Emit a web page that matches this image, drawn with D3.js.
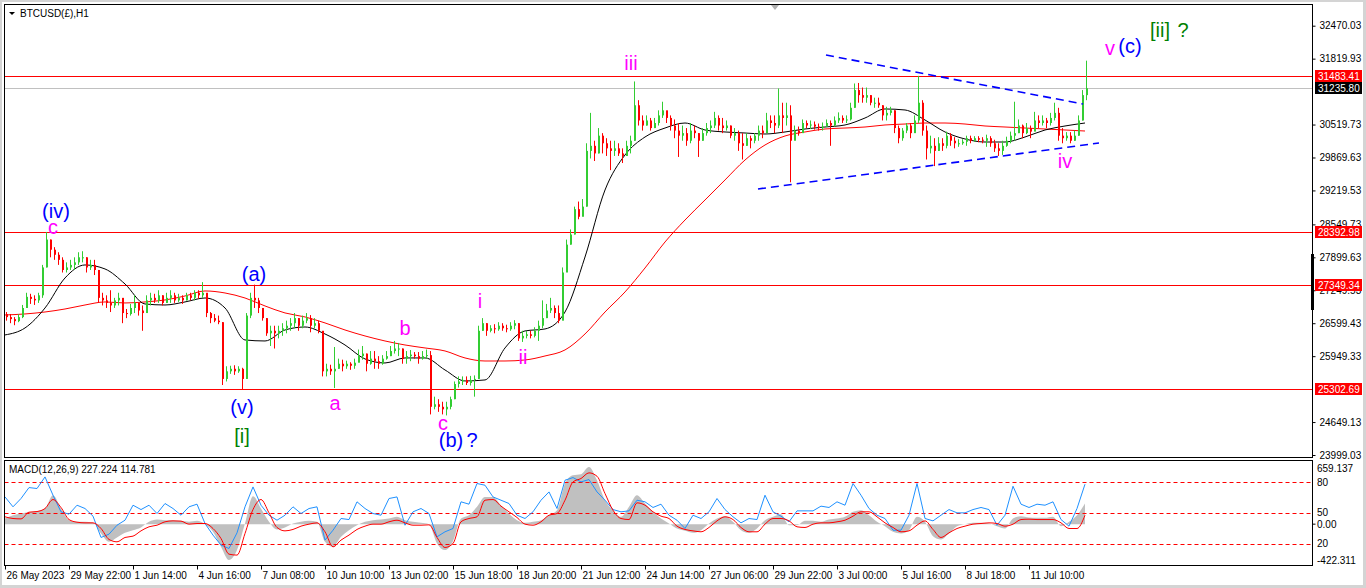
<!DOCTYPE html>
<html><head><meta charset="utf-8">
<script src="https://cdn.jsdelivr.net/npm/d3@7"></script>
<style>html,body{margin:0;padding:0;background:#fff;overflow:hidden}svg{display:block}text{font-family:"Liberation Sans",Arial,sans-serif}</style>
</head><body>
<script>
// ---------- DATA (4-hour OHLC bars) ----------
const firstOpen = 26780;
const closes = [26720,26680,26640,26720,26900,27120,27080,27050,27150,27700,28250,28050,27950,27850,27650,27700,27750,27800,27900,27900,27700,27750,27650,27100,27050,27000,26950,27050,27100,26800,26780,26900,27000,26850,26800,27050,27100,27050,27150,27000,27100,27150,27050,27100,27050,27150,27100,27200,27150,27200,26800,26700,26650,26620,25500,25650,25700,25650,25700,25500,26750,27100,27050,26900,26700,26400,26450,26400,26450,26500,26550,26600,26700,26550,26650,26700,26550,26600,26450,25650,25700,25650,25700,25800,25750,25800,25760,25820,25950,26000,25800,25900,25850,25800,25900,25950,26050,26100,26100,25900,25950,25980,25950,25900,25950,25970,24950,25000,24950,24900,24950,25100,25400,25450,25480,25420,25480,25500,26450,26600,26450,26500,26480,26550,26500,26480,26550,26600,26300,26350,26380,26350,26450,26550,26700,26850,26900,26800,26650,27600,28150,28350,28850,28700,28900,30000,30100,29950,30300,30150,30050,30000,30050,29950,29900,30100,30200,30900,30600,30500,30600,30450,30550,30700,30800,30650,30500,30400,30300,30350,30200,30400,30350,30200,30350,30450,30500,30650,30500,30450,30500,30300,30350,30150,30100,30250,30200,30300,30400,30350,30600,30550,30500,30700,30650,30700,30200,30400,30350,30550,30500,30520,30480,30450,30480,30550,30500,30600,30650,30600,30620,30850,31200,31100,31050,31100,30950,30950,30900,30700,30750,30800,30450,30250,30400,30500,30350,30600,30950,30400,30050,30100,30000,30150,30100,30300,30200,30150,30150,30180,30250,30200,30250,30220,30200,30250,30150,30050,30000,30100,30200,30300,30350,30500,30350,30450,30380,30600,30550,30600,30550,30650,30750,30300,30250,30300,30200,30300,30600,31100,31236];
const highs = [26820,26780,26720,26780,26960,27200,27180,27150,27200,27750,28400,28250,28100,28000,27900,27800,27850,27900,28000,28020,27900,27850,27850,27650,27200,27150,27250,27100,27200,27000,26880,26980,27150,27000,26950,27150,27200,27180,27250,27150,27200,27250,27200,27180,27150,27200,27200,27250,27250,27410,27150,26820,26780,26750,26620,25750,25760,25770,25750,25720,26800,27200,27360,27100,26900,26700,26550,26550,26550,26600,26650,26700,26800,26700,26750,26800,26760,26700,26650,26400,25800,25780,26130,25900,25880,25860,25830,25900,26080,26150,26000,26050,26050,25950,25970,26050,26150,26250,26210,26100,26050,26070,26030,26030,26050,26080,26050,25150,25100,25050,25050,25150,25450,25550,25550,25550,25560,25570,26550,26700,26600,26560,26580,26620,26600,26570,26620,26660,26600,26450,26450,26450,26520,26650,27050,26980,27100,26950,26950,27700,28250,28450,28900,29000,29050,30150,30750,30200,30450,30350,30250,30200,30200,30150,30050,30200,30300,31370,31000,30700,30700,30650,30650,30800,30970,30750,30700,30620,30550,30500,30450,30550,30500,30350,30450,30550,30600,30770,30700,30650,30600,30500,30450,30400,30350,30350,30300,30350,30500,30500,30750,30700,30700,31230,30950,30950,30900,30500,30480,30620,30600,30600,30580,30540,30560,30620,30600,30680,30760,30700,30700,30950,31330,31340,31250,31250,31100,31050,31050,30900,30870,30870,30800,30500,30450,30550,30550,30700,31480,31000,30500,30300,30250,30270,30250,30380,30350,30270,30230,30230,30300,30300,30290,30290,30270,30320,30290,30220,30150,30200,30280,30380,30970,30620,30520,30550,30500,30770,30700,30700,30650,30750,30950,30850,30450,30370,30370,30400,30700,31200,31780];
const lows = [26650,26600,26560,26620,26700,26900,26980,26960,27000,27100,27700,27900,27850,27750,27600,27600,27650,27650,27750,27800,27600,27650,27550,27000,26950,26900,26820,26900,26950,26600,26700,26750,26800,26750,26450,26850,26950,27000,27000,26950,27000,27000,27000,27020,26980,27050,27050,27050,27080,27100,26720,26600,26620,26580,25380,25450,25600,25580,25620,25300,25500,26700,26900,26800,26650,26350,26150,26100,26300,26350,26400,26450,26500,26450,26500,26600,26420,26500,26400,25550,25550,25580,25320,25700,25650,25700,25680,25700,25850,25880,25650,25780,25700,25700,25780,25880,25950,26000,25950,25800,25800,25850,25900,25800,25880,25900,24800,24900,24850,24800,24780,24900,25100,25330,25380,25380,25370,25150,25500,26450,26350,26420,26400,26450,26450,26420,26450,26480,26250,26230,26300,26300,26320,26250,26500,26700,26800,26700,26600,26700,27650,28150,28350,28650,28750,28900,29850,29800,29950,29950,29900,29620,29900,29900,29760,29900,29950,30200,30500,30400,30500,30400,30450,30500,30650,30550,30400,30250,29880,30200,30100,30150,30250,29880,30200,30300,30350,30450,30400,30350,30400,30250,30200,30000,29830,30100,30050,30150,30200,30250,30400,30450,30350,30450,30350,30500,29380,30250,30300,30400,30450,30430,30420,30400,30400,30480,30100,30480,30550,30550,30550,30600,30850,30950,30950,30950,30900,30850,30850,30600,30600,30700,30350,30150,30200,30350,30250,30400,30550,30300,29830,29950,29700,30000,30000,30050,30100,30050,30080,30120,30100,30150,30180,30170,30150,30080,30080,29980,29900,29920,30080,30150,30200,30350,30250,30330,30250,30450,30450,30500,30450,30500,30600,30200,30150,30200,30150,30200,30300,30600,31000];
// moving averages, one value every 20 hourly bars
const maFast = [26368,26506,26900,27492,27749,27670,27374,26979,26959,27019,27097,26900,26269,26249,26466,26525,26387,26170,25894,25815,25914,25914,25677,25460,25480,26111,26447,26486,26821,27906,29228,29919,30274,30451,30550,30412,30373,30353,30333,30373,30432,30471,30511,30649,30827,30807,30609,30373,30235,30175,30175,30274,30412,30491,30550];
const maSlow = [26762,26782,26821,26880,26959,27019,26999,27019,27058,27137,27236,27196,27097,26940,26802,26723,26605,26466,26348,26249,26170,26111,26052,25914,25854,25854,25874,25953,26072,26387,26821,27216,27689,28202,28636,29031,29426,29820,30116,30294,30373,30432,30451,30471,30511,30530,30550,30550,30530,30491,30471,30451,30432,30412,30392];
// MACD sub-window, one value every 8 hourly bars
const macdHist = [60,95,113,130,138,166,307,166,42,25,25,14,-99,-187,-141,-92,-64,-35,25,49,42,42,35,25,35,0,-81,-240,-381,-275,7,297,166,25,-56,-35,7,25,35,25,-187,-240,-134,-64,-11,25,42,49,60,78,42,25,14,0,-205,-275,-180,60,95,184,289,289,201,113,42,14,25,42,95,148,431,519,530,607,466,254,148,78,184,307,219,131,60,7,-46,-71,-92,-64,7,60,85,25,-64,-92,-46,42,78,106,-11,-11,35,35,25,49,60,78,131,148,95,25,-21,-81,-99,-64,78,25,-127,-162,-99,-21,0,14,14,7,-21,-46,60,85,71,67,67,78,-21,25,95,219];
const macdSignal = [78,60,56,127,134,166,261,177,49,21,14,14,-46,-162,-187,-141,-127,-71,-28,-11,25,35,32,0,7,7,-46,-152,-318,-328,-99,155,261,120,-35,-71,-56,-21,0,14,-81,-240,-169,-116,-56,-21,0,0,25,42,14,-11,-11,-7,-141,-247,-205,25,60,78,254,261,191,131,71,0,-11,25,95,113,254,448,484,544,508,325,148,60,49,226,201,131,85,60,-21,-56,-71,-81,-35,35,78,49,-35,-81,-81,0,60,60,35,-28,-35,0,14,14,25,42,85,131,131,78,14,-35,-81,-71,-11,35,-56,-141,-92,-46,-21,0,7,14,7,-21,0,49,53,49,49,49,14,-46,-46,95];
const macdBlue = [289,184,272,388,378,501,307,131,106,201,166,85,-141,-106,-11,42,201,155,201,113,219,166,95,184,212,7,-116,-222,-258,-92,184,395,201,95,42,95,184,113,166,184,-169,-64,60,49,237,166,113,95,272,289,-11,131,166,113,-134,-81,-46,237,212,431,413,289,254,219,95,60,131,254,342,166,466,494,448,473,342,254,155,131,141,254,237,177,212,95,42,-46,95,60,131,272,155,78,14,60,49,307,131,85,25,141,141,141,191,177,237,201,431,307,166,95,60,-64,-64,95,431,60,35,95,155,120,120,155,177,155,-11,95,402,212,177,212,201,237,49,-21,166,424];
const macdLevels = [447, 119, -210];
const macdLevelLabels = ["80", "50", "20"];
const macdMax = 659.137, macdMin = -422.311;
const macdTitle = "MACD(12,26,9) 227.224 114.781";
// axes
const priceTicks = [32470.03,31819.93,30519.73,29869.63,29219.53,28549.73,27899.63,27249.53,26599.43,25949.33,24649.13,23999.03];
const priceMin = 23999.03, priceMax = 32470.03;
const timeLabels = ["26 May 2023","29 May 22:00","1 Jun 14:00","4 Jun 16:00","7 Jun 08:00","10 Jun 10:00","13 Jun 02:00","15 Jun 18:00","18 Jun 20:00","21 Jun 12:00","24 Jun 14:00","27 Jun 06:00","29 Jun 22:00","3 Jul 00:00","5 Jul 16:00","8 Jul 18:00","11 Jul 10:00"];
const hoursPerLabel = 64, totalHours = 1083;
const hLevels = [31483.41, 28392.98, 27349.34, 25302.69];
const bidPrice = 31235.80;
const trendUpper = [[821, 31892], [1078, 30925]];
const trendLower = [[753, 29248], [1094, 30156]];
const waveLabels = [
  {t:"(iv)", h:51, p:28680, c:"blue"}, {t:"c", h:48, p:28360, c:"mag"},
  {t:"(a)", h:249, p:27433, c:"blue"}, {t:"(v)", h:237, p:24809, c:"blue"},
  {t:"[i]", h:237, p:24237, c:"green"}, {t:"a", h:330, p:24888, c:"mag"},
  {t:"b", h:400, p:26367, c:"mag"}, {t:"c", h:438, p:24500, c:"mag"},
  {t:"(b)", h:446, p:24160, c:"blue"}, {t:"?", h:467, p:24160, c:"blue"},
  {t:"i", h:475, p:26900, c:"mag"}, {t:"ii", h:518, p:25795, c:"mag"},
  {t:"iii", h:626, p:31596, c:"mag"}, {t:"iv", h:1060, p:29662, c:"mag"},
  {t:"v", h:1105, p:31892, c:"mag"}, {t:"(c)", h:1125, p:31931, c:"blue"},
  {t:"[ii]", h:1155, p:32247, c:"green"}, {t:"?", h:1178, p:32247, c:"green"}
];

// ---------- DRAW ----------
const W = 1366, H = 588;
const colors = {blue:"#0000ff", mag:"#ff00ff", green:"#008000", up:"#32cd32", down:"#ff0000"};
const svg = d3.select("body").append("svg").attr("width", W).attr("height", H);
svg.append("rect").attr("width", W).attr("height", H).attr("fill", "#d4d4d4");
svg.append("rect").attr("x", 2).attr("y", 2).attr("width", W - 5).attr("height", H - 5).attr("fill", "#fff");

const L = 4.5, R = 1312.5, mainTop = 4.5, mainBot = 457.5, subTop = 460.5, subBot = 565.5;
const x = d3.scaleLinear().domain([0, totalHours]).range([5, 1088]);
const y = d3.scaleLinear().domain([priceMin, priceMax]).range([455, 25.7]);
const ym = d3.scaleLinear().domain([macdMin, macdMax]).range([564, 462]);

svg.append("clipPath").attr("id", "cm").append("rect").attr("x", L).attr("y", mainTop).attr("width", R - L).attr("height", mainBot - mainTop);
svg.append("clipPath").attr("id", "cs").append("rect").attr("x", L).attr("y", subTop).attr("width", R - L).attr("height", subBot - subTop);
const gm = svg.append("g").attr("clip-path", "url(#cm)");

// horizontal levels
gm.selectAll("line.lvl").data(hLevels).join("line").attr("class", "lvl")
  .attr("x1", L).attr("x2", R).attr("y1", d => Math.round(y(d)) + 0.5).attr("y2", d => Math.round(y(d)) + 0.5)
  .attr("stroke", "#ff0000").attr("stroke-width", 1);
gm.append("line").attr("x1", L).attr("x2", R).attr("y1", Math.round(y(bidPrice)) + 0.5).attr("y2", Math.round(y(bidPrice)) + 0.5)
  .attr("stroke", "#c0c0c0").attr("stroke-width", 1);

// moving averages
const maLine = d3.line().x((d, i) => x(i * 20)).y(d => y(d)).curve(d3.curveMonotoneX);
gm.append("path").attr("d", maLine(maSlow)).attr("fill", "none").attr("stroke", "#ff0000").attr("stroke-width", 1);
gm.append("path").attr("d", maLine(maFast)).attr("fill", "none").attr("stroke", "#000").attr("stroke-width", 1);

// candles
const bars = closes.map((c, i) => ({o: i === 0 ? firstOpen : closes[i - 1], h: highs[i], l: lows[i], c, i}));
gm.selectAll("line.wick").data(bars).join("line").attr("class", "wick")
  .attr("x1", d => Math.round(x(d.i * 4)) + 1.5).attr("x2", d => Math.round(x(d.i * 4)) + 1.5)
  .attr("y1", d => y(d.h)).attr("y2", d => y(d.l))
  .attr("stroke", d => d.c >= d.o ? colors.up : colors.down).attr("stroke-width", 1);
gm.selectAll("rect.body").data(bars).join("rect").attr("class", "body")
  .attr("x", d => Math.round(x(d.i * 4)) + 1).attr("width", 2)
  .attr("y", d => y(Math.max(d.o, d.c))).attr("height", d => Math.max(1, Math.abs(y(d.o) - y(d.c))))
  .attr("fill", d => d.c >= d.o ? colors.up : colors.down);

// trendlines
[trendUpper, trendLower].forEach(t => {
  gm.append("line").attr("x1", x(t[0][0])).attr("y1", y(t[0][1])).attr("x2", x(t[1][0])).attr("y2", y(t[1][1]))
    .attr("stroke", "#0000ff").attr("stroke-width", 1.6).attr("stroke-dasharray", "8,5");
});

// wave labels
svg.append("g").selectAll("text").data(waveLabels).join("text")
  .attr("x", d => x(d.h)).attr("y", d => y(d.p)).attr("text-anchor", "middle")
  .attr("font-size", 20).attr("fill", d => colors[d.c]).text(d => d.t);

// title
svg.append("path").attr("d", "M9,12 L15,12 L12,15 Z").attr("fill", "#000");
svg.append("text").attr("x", 20).attr("y", 16.5).attr("font-size", 10).attr("fill", "#000").text("BTCUSD(£),H1");
svg.append("path").attr("d", "M771,5 L779,5 L775,10 Z").attr("fill", "#b0b0b0");

// MACD sub-window
const gs = svg.append("g").attr("clip-path", "url(#cs)");
const mx = (d, i) => x(i * 8);
gs.append("path").attr("d", d3.area().x(mx).y0(ym(0)).y1(d => ym(d)).curve(d3.curveMonotoneX)(macdHist))
  .attr("fill", "#c0c0c0");
gs.selectAll("line.ml").data(macdLevels).join("line").attr("class", "ml")
  .attr("x1", L).attr("x2", R).attr("y1", d => Math.round(ym(d)) + 0.5).attr("y2", d => Math.round(ym(d)) + 0.5)
  .attr("stroke", "#ff0000").attr("stroke-dasharray", "4,3");
gs.append("path").attr("d", d3.line().x(mx).y(d => ym(d))(macdBlue)).attr("fill", "none").attr("stroke", "#1e90ff").attr("stroke-width", 1);
gs.append("path").attr("d", d3.line().x(mx).y(d => ym(d)).curve(d3.curveMonotoneX)(macdSignal)).attr("fill", "none").attr("stroke", "#ff0000").attr("stroke-width", 1);
svg.append("text").attr("x", 9).attr("y", 473).attr("font-size", 10).attr("fill", "#000").text(macdTitle);

// frames
svg.append("rect").attr("x", L).attr("y", mainTop).attr("width", R - L).attr("height", mainBot - mainTop).attr("fill", "none").attr("stroke", "#000");
svg.append("rect").attr("x", L).attr("y", subTop).attr("width", R - L).attr("height", subBot - subTop).attr("fill", "none").attr("stroke", "#000");
svg.append("rect").attr("x", 1311).attr("y", 254).attr("width", 3).attr("height", 56).attr("fill", "#000");

// price axis
const pa = svg.append("g").attr("transform", `translate(${R},0)`)
  .call(d3.axisRight(y).tickValues(priceTicks).tickSize(3).tickPadding(4).tickFormat(d3.format(".2f")));
pa.select(".domain").remove();
pa.selectAll("text").attr("font-size", 10).attr("font-family", "Liberation Sans").attr("fill", "#000");
pa.selectAll("line").attr("stroke", "#000");

// price boxes
const boxes = hLevels.map(v => ({v, fill: "#ff0000"})).concat([{v: bidPrice, fill: "#000"}]);
const bg = svg.append("g").selectAll("g").data(boxes).join("g").attr("transform", d => `translate(1315,${Math.round(y(d.v))})`);
bg.append("rect").attr("x", 0).attr("y", -6).attr("width", 47).attr("height", 12).attr("fill", d => d.fill);
bg.append("text").attr("x", 3).attr("y", 4).attr("font-size", 10).attr("fill", "#fff").text(d => d3.format(".2f")(d.v));

// MACD scale labels
const ml = [{v: macdMax, t: "659.137"}, {v: 0, t: "0.00"}, {v: macdMin, t: "-422.311"}]
  .concat(macdLevels.map((v, i) => ({v, t: macdLevelLabels[i]})));
svg.append("g").selectAll("text").data(ml).join("text")
  .attr("x", 1317).attr("y", d => Math.min(Math.max(ym(d.v), 468), 560) + 3.5).attr("font-size", 10).attr("fill", "#000").text(d => d.t);
svg.append("line").attr("x1", R).attr("x2", R + 3).attr("y1", ym(0)).attr("y2", ym(0)).attr("stroke", "#000");

// time axis
const tg = svg.append("g").selectAll("g").data(timeLabels).join("g").attr("transform", (d, i) => `translate(${Math.round(x(i * hoursPerLabel)) + 0.5},${subBot})`);
tg.append("line").attr("y1", 0).attr("y2", 4).attr("stroke", "#000");
tg.append("text").attr("x", 1).attr("y", 13).attr("font-size", 10).attr("fill", "#000").text(d => d);
</script>
</body></html>
